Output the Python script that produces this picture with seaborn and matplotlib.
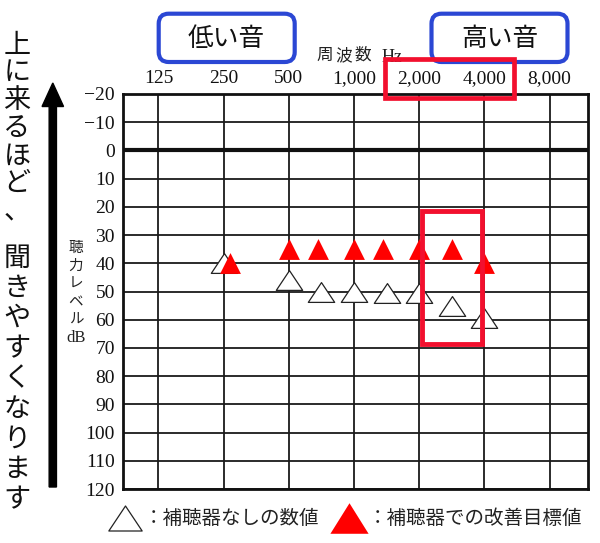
import matplotlib.pyplot as plt
import seaborn as sns
import numpy as np
from matplotlib.path import Path
from matplotlib.lines import Line2D
from matplotlib.patches import FancyBboxPatch, Rectangle, FancyArrow

# frequency ticks (octave index from 125 Hz) and labels
freq_pos = [0, 1, 2, 3, 4, 5, 6]
freq_labels = ["125", "250", "500", "1,000", "2,000", "4,000", "8,000"]
db_ticks = list(range(-20, 121, 10))
db_labels = ["\u221220", "\u221210"] + [str(v) for v in range(0, 121, 10)]

# hearing level without hearing aid (open triangles)
unaided_pos = [1, 2, 2.5, 3, 3.5, 4, 4.5, 5]
unaided_db = [40, 46, 50, 50, 50.5, 50.5, 55, 59.5]
# target with hearing aid (red triangles)
target_pos = [1.1, 2, 2.45, 3, 3.45, 4, 4.5, 5]
target_db = [40, 35, 35, 35, 35, 35, 35, 40]

sns.set_style("white")
plt.rcParams['font.family'] = ['Noto Sans CJK JP', 'DejaVu Sans']
SERIF = ['Liberation Serif', 'DejaVu Serif']
RED = '#ff0000'
BOXRED = '#f2102e'
BLUE = '#2b47d4'

W, H = 600, 543
fig = plt.figure(figsize=(W / 100, H / 100), dpi=100)
ax = fig.add_axes([123.3 / W, 1 - 489 / H, (588 - 123.3) / W, (489 - 94) / H])

def fx(x):
    return x / W

def fy(y):
    return 1 - y / H

# wide open triangle
open_tri = Path([(-1, -0.75), (1, -0.75), (0, 0.75), (-1, -0.75)],
                [Path.MOVETO, Path.LINETO, Path.LINETO, Path.CLOSEPOLY])
red_tri = Path([(-1, -0.8), (1, -0.8), (0, 0.8), (-1, -0.8)],
               [Path.MOVETO, Path.LINETO, Path.LINETO, Path.CLOSEPOLY])

sns.scatterplot(x=unaided_pos, y=unaided_db, marker=open_tri, s=19 ** 2,
                facecolor='white', edgecolor='#222222', linewidth=0.9,
                ax=ax, zorder=4)
sns.scatterplot(x=target_pos, y=target_db, marker='^', s=15 ** 2,
                color=RED, edgecolor=RED, linewidth=0, ax=ax, zorder=5)

ax.set_xlim(-0.54, 6.59)
ax.set_ylim(120, -20)
ax.set_xticks(freq_pos)
ax.set_xticklabels(freq_labels, fontfamily=SERIF, fontsize=14)
ax.set_yticks(db_ticks)
ax.set_yticklabels(db_labels, fontfamily=SERIF, fontsize=14)
ax.xaxis.tick_top()
ax.tick_params(axis='x', length=0, pad=5, colors='#111111')
ax.tick_params(axis='y', length=0, pad=6, colors='#111111')
ax.grid(True, color='#1a1a1a', lw=1.3)
ax.axhline(0, color='#111111', lw=3, zorder=3)
for sp in ax.spines.values():
    sp.set_visible(True)
    sp.set_color('#111111')
    sp.set_linewidth(2)
ax.set_xlabel('')
ax.set_ylabel('')

# red highlight box inside the plot (2000-4000 Hz)
ax.add_patch(Rectangle((4.04, 21.3), 0.93, 47.3, fill=False, ec=BOXRED,
                       lw=3.5, zorder=6, clip_on=False))

# red box around 2,000 / 4,000 labels
fig.patches.append(FancyBboxPatch((385 / 100, (H - 97.5) / 100), 129 / 100, 38.5 / 100,
                                  boxstyle='square,pad=0', fill=False, ec=BOXRED, lw=3.4,
                                  transform=fig.dpi_scale_trans, zorder=6))

# blue rounded boxes
for x0, label in [(158.7, "低い音"), (431.5, "高い音")]:
    fig.patches.append(FancyBboxPatch((x0 / 100, (H - 62) / 100), 136 / 100, 48.3 / 100,
                                      boxstyle='round,pad=0,rounding_size=0.1',
                                      fill=False, ec=BLUE, lw=3,
                                      transform=fig.dpi_scale_trans))
    fig.text(fx(x0 + 68), fy(38.5), label, ha='center', va='center',
             fontsize=18.5, color='#111111')

for i, ch in enumerate("周波数"):
    fig.text(fx(325 + 19 * i), fy(55.5), ch, ha='center', va='center',
             fontsize=12, color='#222222')
fig.text(fx(382), fy(57), "Hz", ha='left', va='center', fontsize=13,
         fontfamily=SERIF, color='#222222', zorder=2)

# vertical y label
for i, ch in enumerate("聴力レベル"):
    fig.text(fx(76), fy(248 + 18 * i), ch, ha='center', va='center',
             fontsize=10.5, color='#222222')
fig.text(fx(76), fy(338), "dB", ha='center', va='center', fontsize=12,
         fontfamily=SERIF, color='#222222')

# big vertical caption on the left
for i, ch in enumerate("上に来るほど、"):
    fig.text(fx(17), fy(45 + 27.7 * i), ch, ha='center', va='center',
             fontsize=19.5, color='#111111')
for i, ch in enumerate("聞きやすくなります"):
    fig.text(fx(17), fy(258 + 30.2 * i), ch, ha='center', va='center',
             fontsize=19.5, color='#111111')

# arrow
fig.patches.append(FancyArrow(52.8 / 100, (H - 487) / 100, 0, (487 - 83) / 100,
                              width=0.073, head_width=0.215, head_length=0.235,
                              length_includes_head=True, color='black',
                              transform=fig.dpi_scale_trans))

# legend
handles = [
    Line2D([], [], ls='none', marker=open_tri, markersize=24, mfc='white',
           mec='#222222', mew=0.9),
    Line2D([], [], ls='none', marker=red_tri, markersize=27.5, mfc=RED, mec=RED, mew=0),
]
fig.legend(handles, ["：補聴器なしの数値", "：補聴器での改善目標値"], ncol=2,
           loc='center', bbox_to_anchor=(fx(344), fy(519)), frameon=False,
           fontsize=14, handlelength=2.0, handletextpad=0.0, columnspacing=0.5,
           borderpad=0, labelcolor='#222222')

fig.savefig("out.png", dpi=100)
